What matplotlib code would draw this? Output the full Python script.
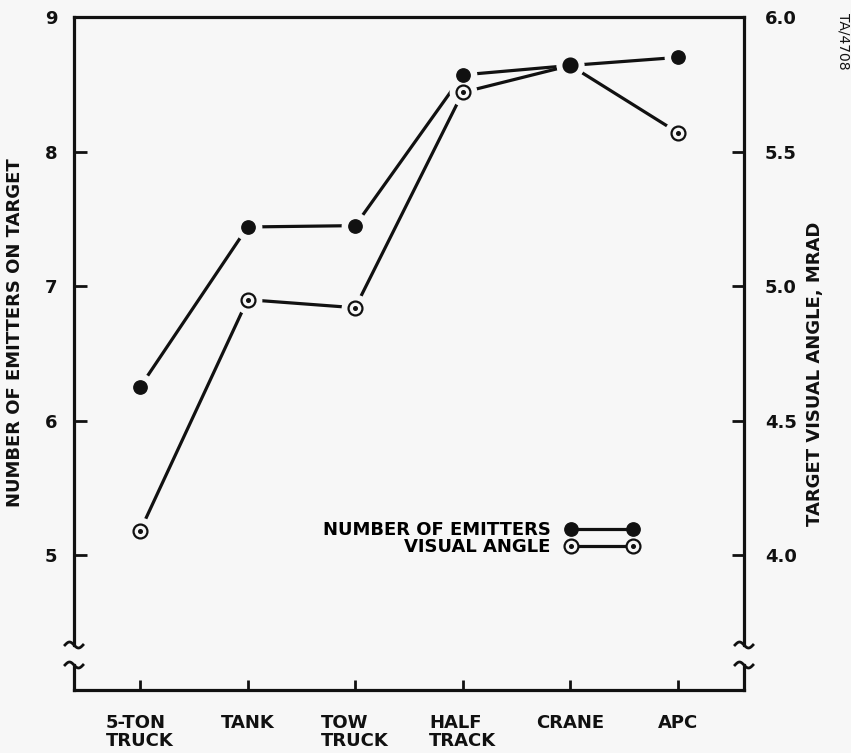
import numpy as np
import matplotlib
matplotlib.use('Agg')
import matplotlib.pyplot as plt
from matplotlib.lines import Line2D
from matplotlib.legend_handler import HandlerTuple

# ---- data ----
categories = ['5-TON\nTRUCK', 'TANK', 'TOW\nTRUCK', 'HALF\nTRACK', 'CRANE', 'APC']
emitters = [6.25, 7.44, 7.45, 8.57, 8.64, 8.70]          # left axis
visual_angle = [4.09, 4.95, 4.92, 5.72, 5.82, 5.57]      # right axis, mrad
left_ticks = [5, 6, 7, 8, 9]
right_ticks = [4.0, 4.5, 5.0, 5.5, 6.0]
series_labels = ['NUMBER OF EMITTERS', 'VISUAL ANGLE']


def mrad_to_emit(v):
    return (np.asarray(v) - 4.0) * 2.0 + 5.0


def emit_to_mrad(e):
    return (np.asarray(e) - 5.0) / 2.0 + 4.0


BG = '#f7f7f7'
INK = '#111111'
FS = 13
plt.rcParams.update({'font.family': 'DejaVu Sans', 'font.weight': 'bold',
                     'font.size': FS})

fig = plt.figure(figsize=(8.51, 7.53), dpi=100, facecolor=BG)
ax = fig.add_axes([74 / 851, 63 / 753, 670 / 851, 673 / 753])
ax.set_facecolor(BG)
x = np.arange(len(categories))
ax.set_xlim(-0.613, 5.613)
ax.set_ylim(4.0, 9.0)

va_left = mrad_to_emit(visual_angle)
LW = 2.3
ax.plot(x, emitters, color=INK, lw=LW, zorder=2)
ax.plot(x, va_left, color=INK, lw=LW, zorder=2)
# background-coloured halos give the gaps between lines and markers
ax.plot(x, emitters, ls='none', marker='o', ms=20, mfc=BG, mec='none', zorder=3)
ax.plot(x, va_left, ls='none', marker='o', ms=20, mfc=BG, mec='none', zorder=3)
ax.plot(x, va_left, ls='none', marker='o', ms=10, mfc=BG, mec=INK, mew=1.6, zorder=4)
ax.plot(x, va_left, ls='none', marker='o', ms=2.6, mfc=INK, mec=INK, zorder=4)
ax.plot(x, emitters, ls='none', marker='o', ms=9.6, mfc=INK, mec=INK, zorder=5)

# spines
for s in ('left', 'right'):
    ax.spines[s].set_visible(False)
for s in ('top', 'bottom'):
    ax.spines[s].set_linewidth(LW)
    ax.spines[s].set_color(INK)

brk_hi = (690 - 645) / 673
brk_lo = (690 - 665) / 673
t = np.linspace(-1, 1, 50)
dx = 9 / 670
dy = 3 / 673
for xa in (0.0, 1.0):
    ax.plot([xa, xa], [1, brk_hi], transform=ax.transAxes, color=INK, lw=LW,
            clip_on=False, solid_capstyle='projecting')
    ax.plot([xa, xa], [brk_lo, 0], transform=ax.transAxes, color=INK, lw=LW,
            clip_on=False, solid_capstyle='projecting')
    for yb in (brk_hi, brk_lo):
        ax.plot(xa + t * dx, yb - dy * np.sin(np.pi * t), transform=ax.transAxes,
                color=INK, lw=2.0, clip_on=False)

# ticks
ax.set_xticks(x, categories)
for lbl in ax.get_xticklabels():
    lbl.set_multialignment('left')
    lbl.set_linespacing(1.05)
ax.tick_params(axis='x', direction='in', length=7, width=2, pad=17, colors=INK)
ax.set_yticks(left_ticks, [str(v) for v in left_ticks])
ax.tick_params(axis='y', direction='in', length=9, width=2, pad=12, colors=INK)

sec = ax.secondary_yaxis('right', functions=(emit_to_mrad, mrad_to_emit))
sec.set_yticks(right_ticks, ['%.1f' % v for v in right_ticks])
sec.tick_params(direction='in', length=9, width=2, pad=15, colors=INK)
sec.spines['right'].set_visible(False)

# axis labels
fig.text(15 / 851, 1 - 333 / 753, 'NUMBER OF EMITTERS ON TARGET', rotation=90,
         ha='center', va='center', fontsize=FS, color=INK)
fig.text(815 / 851, 1 - 374 / 753, 'TARGET VISUAL ANGLE, MRAD', rotation=90,
         ha='center', va='center', fontsize=FS, color=INK)
fig.text(843 / 851, 1 - 13 / 753, 'TA/4708', rotation=270, ha='center', va='top',
         fontsize=10, fontweight='normal', color=INK)

# legend
h1 = Line2D([], [], color=INK, lw=LW, marker='o', ms=9.6, mfc=INK, mec=INK)
h2a = Line2D([], [], color=INK, lw=LW, marker='o', ms=10, mfc=BG, mec=INK, mew=1.6)
h2b = Line2D([], [], ls='none', marker='o', ms=2.6, mfc=INK, mec=INK)
ax.legend([h1, (h2a, h2b)], series_labels,
          handler_map={tuple: HandlerTuple(ndivide=1, pad=0)},
          numpoints=2, markerfirst=False, frameon=False, handlelength=4.0,
          handletextpad=0.85, labelspacing=-0.05, borderpad=0, borderaxespad=0,
          loc='center right', bbox_to_anchor=(0.842, 0.225),
          prop={'size': FS, 'weight': 'bold'})

fig.savefig('out.png', dpi=100, facecolor=BG)
